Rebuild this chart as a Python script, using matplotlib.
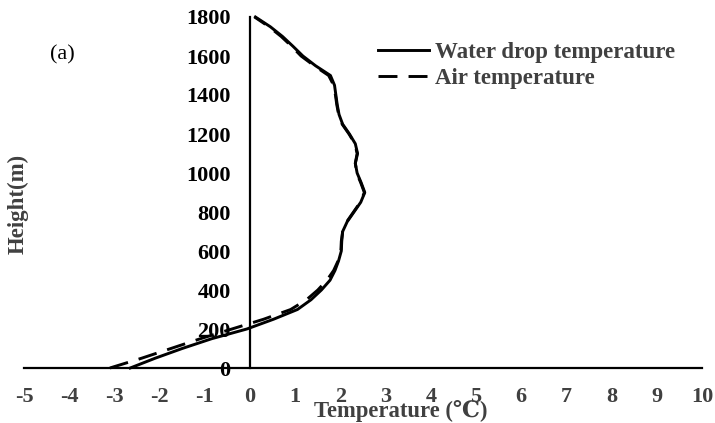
import matplotlib
matplotlib.use("Agg")
import matplotlib.pyplot as plt

heights = [0, 50, 100, 150, 200, 250, 300, 350, 400, 450, 500, 550, 600, 650,
           700, 750, 800, 850, 900, 950, 1000, 1050, 1100, 1150, 1200, 1250,
           1300, 1350, 1400, 1450, 1500, 1550, 1600, 1650, 1700, 1750, 1800]

water_drop_temp = [-2.65, -2.1, -1.5, -0.85, -0.07, 0.52, 1.05, 1.35, 1.58, 1.77,
                   1.88, 1.96, 2.02, 2.03, 2.05, 2.15, 2.30, 2.45, 2.54, 2.46,
                   2.37, 2.33, 2.38, 2.33, 2.20, 2.05, 1.97, 1.93, 1.90, 1.87,
                   1.78, 1.45, 1.17, 0.95, 0.72, 0.45, 0.12]

air_temp = [-3.10, -2.40, -1.75, -1.10, -0.40, 0.30, 0.90, 1.25, 1.50, 1.70,
            1.85, 1.95, 2.01, 2.02, 2.05, 2.14, 2.29, 2.44, 2.53, 2.45,
            2.36, 2.33, 2.37, 2.32, 2.19, 2.04, 1.96, 1.92, 1.89, 1.85,
            1.74, 1.42, 1.13, 0.92, 0.69, 0.42, 0.10]

x_ticks = list(range(-5, 11))
y_ticks = list(range(0, 1801, 200))

serif = ['Liberation Serif', 'DejaVu Serif']
plt.rcParams['font.family'] = serif

fig = plt.figure(figsize=(7.15, 4.23), dpi=100)
ax = fig.add_axes([24/715, 1-368/423, (702-24)/715, (368-17)/423])

ax.spines['left'].set_position(('data', 0))
ax.spines['top'].set_visible(False)
ax.spines['right'].set_visible(False)
for s in ('left', 'bottom'):
    ax.spines[s].set_linewidth(1.6)
    ax.spines[s].set_color('black')

ax.plot(water_drop_temp, heights, color='black', lw=2.1, label='Water drop temperature',
        clip_on=False, zorder=3)
ax.plot(air_temp, heights, color='black', lw=2.1, dashes=(6.5, 3.8), label='Air temperature',
        clip_on=False, zorder=3)

ax.set_xlim(-5, 10)
ax.set_ylim(0, 1800)
ax.set_xticks(x_ticks)
ax.set_yticks(y_ticks)
ax.set_xticklabels([str(v) for v in x_ticks], fontsize=16, fontweight='bold', color='#404040')
ax.set_yticklabels([str(v) for v in y_ticks], fontsize=16, fontweight='bold', color='black')
ax.tick_params(axis='both', length=0)
ax.tick_params(axis='y', pad=14)
ax.tick_params(axis='x', pad=14)

fig.text(401/715, 1-411/423, 'Temperature (℃)', ha='center', va='center',
         fontsize=16.3, fontweight='bold', color='#404040', family=serif)
fig.text(18/715, 1-204/423, 'Height(m)', ha='center', va='center', rotation=90,
         fontsize=16.5, fontweight='bold', color='#404040')
fig.text(62/715, 1-55/423, '(a)', ha='center', va='center', fontsize=16, color='black')

leg = ax.legend(loc='upper left', bbox_to_anchor=(367/715, 1-31/423),
                bbox_transform=fig.transFigure, frameon=False, borderpad=0,
                handlelength=2.2, handletextpad=0.25, labelspacing=0.2,
                prop={'size': 16.5, 'weight': 'bold', 'family': serif})
for t in leg.get_texts():
    t.set_color('#404040')

fig.savefig('out.png', dpi=100)
